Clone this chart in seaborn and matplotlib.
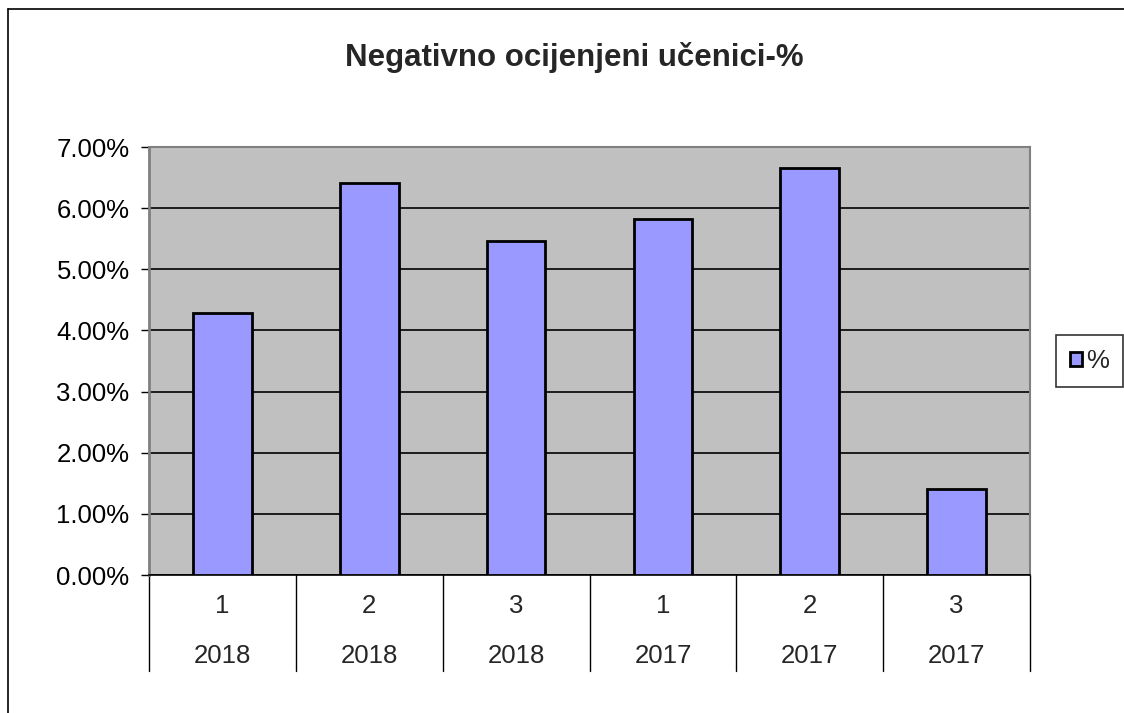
import matplotlib.pyplot as plt
import matplotlib.ticker as mtick
from matplotlib.lines import Line2D
import pandas as pd
import seaborn as sns

# data
polugodiste = ["1", "2", "3", "1", "2", "3"]
godina = ["2018", "2018", "2018", "2017", "2017", "2017"]
postotak = [4.28, 6.41, 5.46, 5.82, 6.66, 1.41]

df = pd.DataFrame({
    "kat": [f"{p}-{g}-{i}" for i, (p, g) in enumerate(zip(polugodiste, godina))],
    "pct": [v / 100 for v in postotak],
})

sns.set_style("white")
plt.rcParams["font.family"] = ["Liberation Sans", "DejaVu Sans"]

fig = plt.figure(figsize=(11.24, 7.13), dpi=100)
ax = fig.add_axes([0.1326, 0.1935, 0.7838, 0.6003])
ax.set_facecolor("#C0C0C0")

sns.barplot(data=df, x="kat", y="pct", color="#9999FF", edgecolor="black",
            linewidth=2, width=0.4, saturation=1, ax=ax, label="%", zorder=3)

ax.set_ylim(0, 0.07)
ax.set_xlim(-0.5, len(postotak) - 0.5)
ax.yaxis.set_major_locator(mtick.MultipleLocator(0.01))
ax.yaxis.set_major_formatter(mtick.PercentFormatter(1.0, decimals=2))
ax.grid(axis="y", color="black", linewidth=1.2, zorder=1)
ax.set_axisbelow(True)
ax.tick_params(axis="y", labelsize=18.5, length=6, width=1, color="black",
               left=True, pad=8, labelcolor="black")
ax.set_xticks([])
ax.set_xlabel("")
ax.set_ylabel("")

for side in ["top", "right"]:
    ax.spines[side].set_color("#808080")
    ax.spines[side].set_linewidth(1.5)
ax.spines["left"].set_color("#808080")
ax.spines["left"].set_linewidth(2)
ax.spines["bottom"].set_color("black")
ax.spines["bottom"].set_linewidth(1.2)

# two-row category axis with separators
xt = ax.get_xaxis_transform()
for i in range(len(postotak) + 1):
    ax.plot([i - 0.5, i - 0.5], [0, -0.225], transform=xt, color="black",
            linewidth=1, clip_on=False)
for i, (p, g) in enumerate(zip(polugodiste, godina)):
    ax.text(i, -0.072, p, transform=xt, ha="center", va="center", fontsize=18.5)
    ax.text(i, -0.19, g, transform=xt, ha="center", va="center", fontsize=18.5)

fig.text(0.511, 0.92, "Negativno ocijenjeni učenici-%", ha="center",
         va="center", fontsize=22.5, fontweight="bold")

leg = ax.legend(loc="center left", bbox_to_anchor=(1.029, 0.5), frameon=True,
                fancybox=False, edgecolor="black", fontsize=18.5,
                handlelength=0.48, handleheight=0.48, handletextpad=0.15,
                borderpad=0.55, borderaxespad=0)
leg.get_frame().set_linewidth(1.2)

# outer chart frame (cropped)
fig.add_artist(Line2D([8 / 1124, 8 / 1124], [0, 1 - 9 / 713], color="black",
                      linewidth=1.2, transform=fig.transFigure))
fig.add_artist(Line2D([8 / 1124, 1], [1 - 9 / 713, 1 - 9 / 713], color="black",
                      linewidth=1.2, transform=fig.transFigure))

fig.savefig("out.png", dpi=100, facecolor="white")
